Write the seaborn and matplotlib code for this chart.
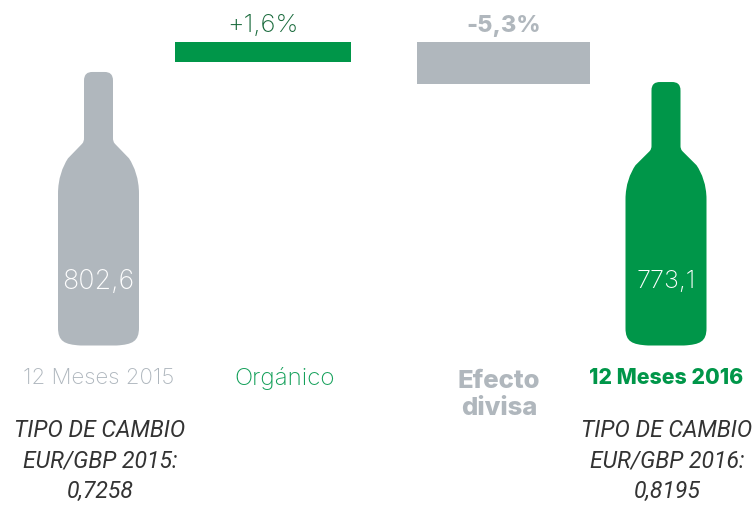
import matplotlib
matplotlib.use("Agg")
import matplotlib.pyplot as plt
from matplotlib.patches import PathPatch
from matplotlib.path import Path
import numpy as np
import seaborn as sns

# values
categories = ["12 Meses 2015", "Orgánico", "Efecto\ndivisa", "12 Meses 2016"]
value_labels = ["802,6", "+1,6%", "-5,3%", "773,1"]
bar_heights = [802.6, 59, 123, 773.1]
bar_bases = [0, 832, 768, 0]
exchange_notes = ["TIPO DE CAMBIO\nEUR/GBP 2015:\n0,7258", "TIPO DE CAMBIO\nEUR/GBP 2016:\n0,8195"]

# layout, in reference pixels
centers = [98.5, 263, 503.5, 666]
widths = [81, 176, 173, 81]
colors = ["#B0B7BD", "#009649", "#B0B7BD", "#009649"]
GREEN_DARK = "#17693A"
GREY_LIGHT = "#AEB6BD"

W, H = 754, 505
ZERO_PX = 345.5
PX_PER_UNIT = 0.3408

sns.set_theme(style="white")
plt.rcParams["font.family"] = ["Inter", "DejaVu Sans"]

# half a bottle, from the bottom centre up to the top centre
half_verts = [(0, 0), (18, 0), (34, 1), (40.5, 4), (40.5, 18), (40.5, 152),
              (40.5, 167), (36, 179), (30.5, 187.5), (16.5, 202),
              (14.8, 204), (14.5, 205.5), (14.5, 208), (14.5, 265),
              (14.5, 272), (11, 274), (6, 274), (0, 274)]
half_codes = [Path.MOVETO, Path.LINETO, Path.CURVE4, Path.CURVE4, Path.CURVE4, Path.LINETO,
              Path.CURVE4, Path.CURVE4, Path.CURVE4, Path.LINETO,
              Path.CURVE4, Path.CURVE4, Path.CURVE4, Path.LINETO,
              Path.CURVE4, Path.CURVE4, Path.CURVE4, Path.LINETO]


def bottle_path(x, y, width, height):
    right = np.array(half_verts, dtype=float)
    # the way down the left side mirrors the way up, with the control points reversed
    left = right[::-1][1:] * [-1, 1]
    verts = np.vstack([right, left])
    codes = half_codes + [Path.LINETO, Path.CURVE4, Path.CURVE4, Path.CURVE4, Path.LINETO,
                          Path.CURVE4, Path.CURVE4, Path.CURVE4, Path.LINETO,
                          Path.CURVE4, Path.CURVE4, Path.CURVE4, Path.LINETO,
                          Path.CURVE4, Path.CURVE4, Path.CURVE4, Path.LINETO][:len(left)]
    verts[:, 0] = x + width / 2 + verts[:, 0] / 40.5 * width / 2
    verts[:, 1] = y + verts[:, 1] / 274 * height
    return Path(verts, codes)


fig = plt.figure(figsize=(W / 100, H / 100), dpi=100)
ax = fig.add_axes([0, 0, 1, 1])

sns.barplot(x=centers, y=bar_heights, native_scale=True, ax=ax, color=colors[0], saturation=1)
ax.set_xlim(0, W)
ax.set_ylim((ZERO_PX - H) / PX_PER_UNIT, ZERO_PX / PX_PER_UNIT)
ax.axis("off")

for i, patch in enumerate(list(ax.patches)):
    patch.set_width(widths[i])
    patch.set_x(centers[i] - widths[i] / 2)
    patch.set_y(bar_bases[i])
    patch.set_facecolor(colors[i])
    patch.set_linewidth(0)
    if i in (0, 3):
        ax.add_patch(PathPatch(bottle_path(patch.get_x(), patch.get_y(), patch.get_width(), patch.get_height()),
                               facecolor=colors[i], linewidth=0))
        patch.set_visible(False)


def px_text(x, y, s, **kw):
    fig.text(x / W, 1 - y / H, s, ha="center", va="center", **kw)


# values
px_text(98.5, 282, value_labels[0], color="white", fontsize=19.3, fontweight="light")
px_text(666, 282, value_labels[3], color="white", fontsize=18, fontweight="light")
px_text(263, 26, value_labels[1], color=GREEN_DARK, fontsize=18.5, fontweight="light")
px_text(503.5, 26, value_labels[2], color=colors[2], fontsize=17, fontweight=800)

# category labels
px_text(98.5, 378, categories[0], color=GREY_LIGHT, fontsize=16, fontweight="light")
px_text(285, 378, categories[1], color="#14A05A", fontsize=17.4, fontweight="light")
px_text(499, 395, categories[2], color=colors[2], fontsize=18.5, fontweight=800, linespacing=1.2)
px_text(666, 378, categories[3], color=colors[3], fontsize=15.3, fontweight=800)

# exchange rate notes
px_text(100, 461, exchange_notes[0], color="#333333", fontsize=16.6, style="italic",
        family="Roboto", linespacing=1.42)
px_text(667, 461, exchange_notes[1], color="#333333", fontsize=16.6, style="italic",
        family="Roboto", linespacing=1.42)

fig.savefig("out.png", dpi=100)
